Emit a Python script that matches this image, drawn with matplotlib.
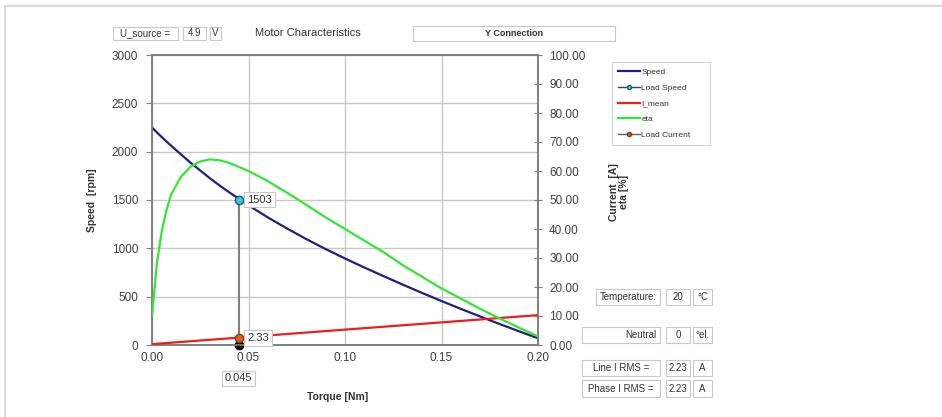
import matplotlib
matplotlib.use("Agg")
import matplotlib.pyplot as plt
from matplotlib.patches import Rectangle
from matplotlib.lines import Line2D

plt.rcParams['font.family'] = ['Liberation Sans', 'DejaVu Sans']

# 数据
torque = [0.0, 0.0025, 0.005, 0.0075, 0.01, 0.015, 0.02, 0.025, 0.03, 0.035, 0.04,
          0.05, 0.06, 0.07, 0.08, 0.09, 0.10, 0.11, 0.12, 0.13, 0.14, 0.15,
          0.16, 0.17, 0.18, 0.19, 0.20]
speed = [2250, 2200, 2152, 2105, 2060, 1972, 1885, 1805, 1725, 1650, 1580,
         1445, 1320, 1205, 1095, 992, 895, 802, 712, 624, 538, 455,
         374, 295, 218, 143, 70]
i_mean = [0.3, 0.43, 0.55, 0.68, 0.8, 1.05, 1.3, 1.55, 1.8, 2.05, 2.3,
          2.8, 3.3, 3.8, 4.3, 4.8, 5.3, 5.8, 6.3, 6.8, 7.3, 7.8,
          8.3, 8.8, 9.3, 9.8, 10.3]
eta = [10, 28, 39, 46.5, 52, 58, 61.5, 63.3, 64, 63.7, 62.8,
       60, 56.5, 52.5, 48.3, 44, 40, 36, 32, 27.5, 23.5, 19.5,
       16, 12.5, 9.2, 6, 3]
load_torque = 0.045
load_speed = 1503
load_current = 2.33
speed_ticks = [0, 500, 1000, 1500, 2000, 2500, 3000]
right_ticks = [0, 10, 20, 30, 40, 50, 60, 70, 80, 90, 100]
torque_ticks = [0.0, 0.05, 0.10, 0.15, 0.20]

W, H = 942, 417
fig = plt.figure(figsize=(W / 100, H / 100), dpi=100)
fig.patch.set_facecolor('white')

def px(x, y):
    return x / W, 1 - y / H

# 外框
fig.add_artist(Line2D([5 / W, 1], [1 - 6 / H] * 2, color='#d5dadf', lw=1.5))
fig.add_artist(Line2D([5 / W] * 2, [0, 1 - 6 / H], color='#d5dadf', lw=1.5))

def box(x0, y0, x1, y1, text, ha='center', bold=False, size=7):
    fig.add_artist(Rectangle((x0 / W, 1 - y1 / H), (x1 - x0) / W, (y1 - y0) / H,
                             transform=fig.transFigure, facecolor='white',
                             edgecolor='#c8c8c8', lw=0.8))
    if ha == 'center':
        tx = (x0 + x1) / 2
    elif ha == 'right':
        tx = x1 - 4
    else:
        tx = x0 + 4
    fig.text(*px(tx, (y0 + y1) / 2), text, ha=ha, va='center', fontsize=size,
             color='#333333', fontweight='bold' if bold else 'normal')

# 主坐标轴
l, b = px(152, 345)
r, t = px(538, 55)
ax = fig.add_axes([l, b, r - l, t - b])
ax2 = ax.twinx()

ax.plot(torque, speed, color='#202080', lw=1.6, zorder=3)
ax2.plot(torque, i_mean, color='#e82020', lw=1.6, zorder=3)
ax2.plot(torque, eta, color='#33e633', lw=1.6, zorder=3)

# 工作点
ax.plot([load_torque, load_torque], [0, load_speed], color='#808080', lw=1.5, zorder=4)
ax.plot(load_torque, load_speed, 'o', color='#30c8e0', mec='#206070', ms=6, zorder=6)
ax2.plot(load_torque, load_current, 'o', color='#e06010', mec='#804020', ms=6, zorder=6,
         clip_on=False)
ax.plot(load_torque, 0, 'o', color='black', ms=6, zorder=6, clip_on=False)

bb = dict(boxstyle='square,pad=0.25', fc='white', ec='#c8c8c8', lw=0.8)
ax.annotate(str(load_speed), (load_torque, load_speed), xytext=(6, 0),
            textcoords='offset points', va='center', ha='left', fontsize=8,
            color='#333333', bbox=bb, zorder=7)
ax2.annotate(f"{load_current:.2f}", (load_torque, load_current), xytext=(6, 0),
             textcoords='offset points', va='center', ha='left', fontsize=8,
             color='#333333', bbox=bb, zorder=7)
ax.annotate(f"{load_torque:.3f}", (load_torque, 0), xytext=(0, -24),
            textcoords='offset points', va='center', ha='center', fontsize=8,
            color='#333333', bbox=bb, annotation_clip=False)

ax.set_xlim(0, 0.2)
ax.set_ylim(0, 3000)
ax2.set_ylim(0, 100)
ax.set_xticks(torque_ticks)
ax.set_xticklabels([f"{v:.2f}" for v in torque_ticks])
ax.set_yticks(speed_ticks)
ax2.set_yticks(right_ticks)
ax2.set_yticklabels([f"{v:.2f}" for v in right_ticks])
ax.grid(True, color='#c8c8c8', lw=1)
ax.set_axisbelow(True)
for a in (ax, ax2):
    for s in a.spines.values():
        s.set_color('#808080')
        s.set_linewidth(1.2)
    a.tick_params(colors='#808080', labelcolor='#404040', labelsize=8.5, length=4)
ax.tick_params(axis='y', pad=6)
ax.tick_params(axis='x', length=0, pad=5)
ax2.tick_params(axis='y', direction='inout', length=6, pad=5)

# 轴标题
fig.text(*px(92, 200), 'Speed  [rpm]', rotation=90, ha='center', va='center',
         fontsize=7.5, fontweight='bold', color='#333333')
fig.text(*px(619, 192), 'Current  [A]\neta [%]', rotation=90, ha='center', va='center',
         fontsize=7.5, fontweight='bold', color='#333333', linespacing=1.0)
fig.text(*px(338, 397), 'Torque [Nm]', ha='center', va='center',
         fontsize=7.5, fontweight='bold', color='#333333')

# 图例
handles = [Line2D([], [], color='#202080', lw=1.6),
           Line2D([], [], color='#404060', lw=1, marker='o', mfc='#30c8e0', mec='#206070', ms=3),
           Line2D([], [], color='#e82020', lw=1.6),
           Line2D([], [], color='#33e633', lw=1.6),
           Line2D([], [], color='#606060', lw=1, marker='o', mfc='#e06010', mec='#804020', ms=3)]
labels = ['Speed', 'Load Speed', 'I_mean', 'eta', 'Load Current']
lx, ly = px(612, 146)
lx1, ly1 = px(710, 62)
leg = fig.legend(handles, labels, loc='upper left',
                 bbox_to_anchor=(lx, ly, lx1 - lx, ly1 - ly), mode='expand',
                 fontsize=6, frameon=True, fancybox=False, handlelength=2.6,
                 handletextpad=0.15, borderpad=0.75, labelspacing=0.95,
                 borderaxespad=0)
leg.get_frame().set_edgecolor('#c8c8c8')
leg.get_frame().set_linewidth(0.8)
for txt in leg.get_texts():
    txt.set_color('#333333')

# 顶部控件
box(113, 27, 178, 40, 'U_source =')
box(183, 27, 206, 40, '4.9')
box(210, 27, 221, 40, 'V')
fig.text(*px(255, 33), 'Motor Characteristics', ha='left', va='center',
         fontsize=8, color='#333333')
box(413, 26, 615, 41, 'Y Connection', bold=True, size=6.5)

# 右下控件
rows = [(289, 305, 596, 'Temperature:', '20', '°C', 'center'),
        (327, 343, 582, 'Neutral', '0', '°el.', 'right'),
        (360, 376, 582, 'Line I RMS =', '2.23', 'A', 'center'),
        (380, 397, 582, 'Phase I RMS =', '2.23', 'A', 'center')]
for y0, y1, x0, lab, val, unit, ha in rows:
    box(x0, y0, 660, y1, lab, ha=ha)
    box(666, y0, 690, y1, val)
    box(693, y0, 712, y1, unit)

fig.savefig('out.png', dpi=100, facecolor='white')
